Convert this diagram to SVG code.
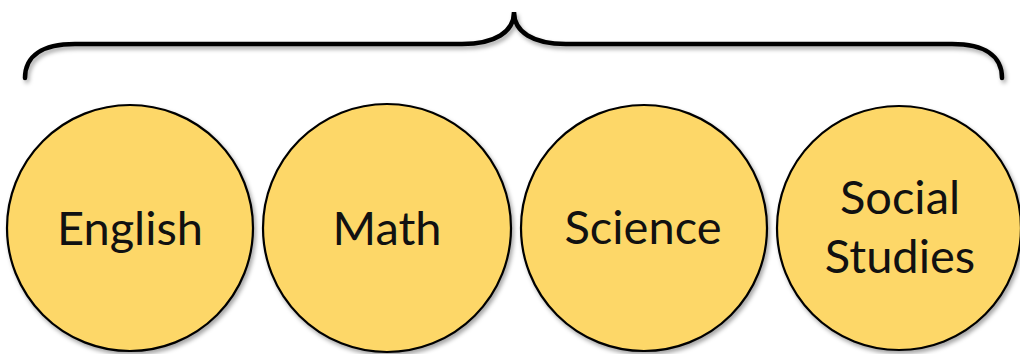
<svg xmlns="http://www.w3.org/2000/svg" width="1020" height="354" viewBox="0 0 1020 354">
<defs>
<filter id="sh" x="-10%" y="-10%" width="130%" height="130%">
<feDropShadow dx="2" dy="3" stdDeviation="2" flood-color="#000" flood-opacity="0.35"/>
</filter>
<style>
.c{fill:#FDD767;stroke:#000;stroke-width:2.2;filter:url(#sh)}
.t{font-family:Lato,"Liberation Sans",sans-serif;font-size:47px;fill:#111;text-anchor:middle}
.b{fill:none;stroke:#000;stroke-width:4.5;stroke-linecap:round;filter:url(#sh)}
</style>
</defs>
<g id="connectors">
<path class="b" d="M25,78 C25,56 42,44 75,44 L462,44 C495,44 514,32 514,12 C514,32 533,44 566,44 L952,44 C985,44 1002,56 1002,78"/>
</g>
<g id="english"><circle class="c" cx="130" cy="228" r="123"/><text class="t" x="130" y="245">English</text></g>
<g id="math"><circle class="c" cx="387" cy="228" r="124"/><text class="t" x="387" y="245">Math</text></g>
<g id="science"><circle class="c" cx="644" cy="228" r="123"/><text class="t" x="643" y="244">Science</text></g>
<g id="social"><circle class="c" cx="899" cy="228" r="122"/><text class="t" x="900" y="214">Social</text><text class="t" x="900" y="273">Studies</text></g>
</svg>
